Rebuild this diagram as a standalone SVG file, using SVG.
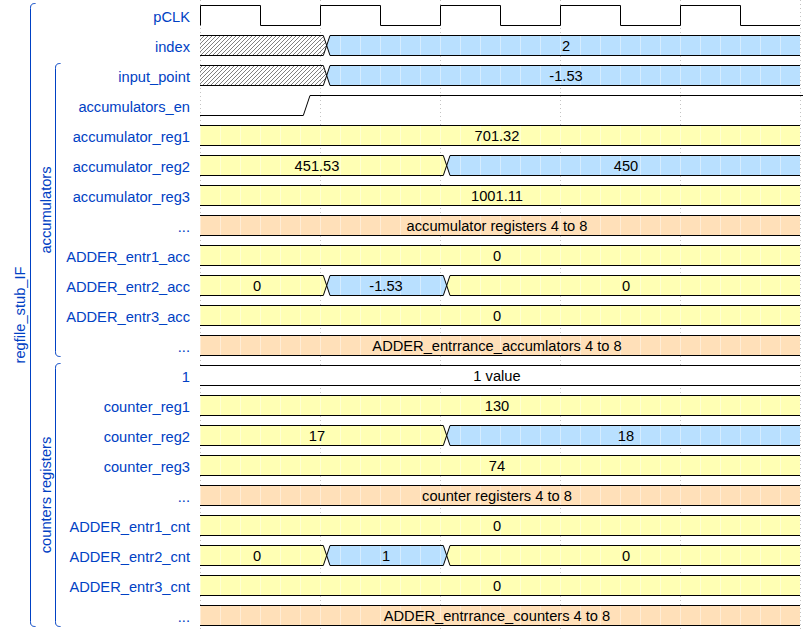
<svg xmlns="http://www.w3.org/2000/svg" width="804" height="630" viewBox="0 0 804 630">
<defs>
<pattern id="hatch" patternUnits="userSpaceOnUse" width="4" height="4">
<path d="M-1,1 L1,-1 M0,4 L4,0 M3,5 L5,3" stroke="#000" stroke-width="0.5"/>
</pattern>
<pattern id="seam" patternUnits="userSpaceOnUse" x="0" y="0" width="20" height="20">
<rect width="1" height="20" fill="#fff" fill-opacity="0.4"/>
</pattern>
<style>
.y{fill:#ffffb4}.o{fill:#ffe0b9}.b{fill:#b9e0ff}.w{fill:#fff}.h{fill:url(#hatch)}.s{fill:url(#seam)}
.ln{fill:none;stroke:#000;stroke-width:1}
.lbl{font-family:"Liberation Sans",Arial,sans-serif;font-size:14.67px;fill:#0041c4;text-anchor:end}
.gl{font-family:"Liberation Sans",Arial,sans-serif;font-size:14.67px;fill:#0041c4;text-anchor:middle}
.dt{font-family:"Liberation Sans",Arial,sans-serif;font-size:14.67px;fill:#000;text-anchor:middle}
.grid{fill:none;stroke:#888;stroke-width:0.5;stroke-dasharray:1,3}
.grp{fill:none;stroke:#0041c4;stroke-width:1}
</style>
</defs>
<rect width="804" height="630" fill="#fff"/>
<g id="grid">
<path class="grid" d="M200.5,0V630M320.5,0V630M440.5,0V630M560.5,0V630M680.5,0V630M800.5,0V630"/>
</g>
<g id="groups">
<path class="grp" d="M35.5,3.5c-3.5,0 -5,1 -5,5V621.5c0,4 1.5,5 5,5"/>
<text class="gl" transform="translate(25,315) rotate(-90)">regfile_stub_IF</text>
<path class="grp" d="M60.5,63.5c-3.5,0 -5,1 -5,5V351.5c0,4 1.5,5 5,5"/>
<text class="gl" transform="translate(50.5,210) rotate(-90)">accumulators</text>
<path class="grp" d="M60.5,363.5c-3.5,0 -5,1 -5,5V621.5c0,4 1.5,5 5,5"/>
<text class="gl" transform="translate(50.5,495) rotate(-90)">counters registers</text>
</g>
<g id="connectors"/>

<g id="sig-pCLK">
<text class="lbl" x="190" y="21.7">pCLK</text>
<path class="ln" d="M200.5,25.5V5.5H260.5V25.5H320.5V5.5H380.5V25.5H440.5V5.5H500.5V25.5H560.5V5.5H620.5V25.5H680.5V5.5H740.5V25.5H800"/>
</g>

<g id="sig-index">
<text class="lbl" x="190" y="51.7">index</text>
<polygon class="h" points="200,35.5 323.3,35.5 326.7,45.5 323.3,55.5 200,55.5"/>
<polygon class="b" points="326.7,45.5 330,35.5 800,35.5 800,55.5 330,55.5"/>
<polygon class="s" points="326.7,45.5 330,35.5 800,35.5 800,55.5 330,55.5"/>
<path class="ln" d="M200,35.5H323.3L326.7,45.5L323.3,55.5H200M800,35.5H330L326.7,45.5L330,55.5H800"/>
<text class="dt" x="566" y="50.7">2</text>
</g>

<g id="sig-input_point">
<text class="lbl" x="190" y="81.7">input_point</text>
<polygon class="h" points="200,65.5 323.3,65.5 326.7,75.5 323.3,85.5 200,85.5"/>
<polygon class="b" points="326.7,75.5 330,65.5 800,65.5 800,85.5 330,85.5"/>
<polygon class="s" points="326.7,75.5 330,65.5 800,65.5 800,85.5 330,85.5"/>
<path class="ln" d="M200,65.5H323.3L326.7,75.5L323.3,85.5H200M800,65.5H330L326.7,75.5L330,85.5H800"/>
<text class="dt" x="566" y="80.7">-1.53</text>
</g>

<g id="sig-accumulators_en">
<text class="lbl" x="190" y="111.7">accumulators_en</text>
<path class="ln" d="M200,115.5H303.3L310,95.5H803"/>
</g>

<g id="sig-accumulator_reg1">
<text class="lbl" x="190" y="141.7">accumulator_reg1</text>
<rect class="y" x="200" y="125.5" width="600" height="20"/>
<rect class="s" x="200" y="125.5" width="600" height="20"/>
<path class="ln" d="M200,125.5H800M200,145.5H800"/>
<text class="dt" x="497" y="140.7">701.32</text>
</g>

<g id="sig-accumulator_reg2">
<text class="lbl" x="190" y="171.7">accumulator_reg2</text>
<polygon class="y" points="200,155.5 443.3,155.5 446.7,165.5 443.3,175.5 200,175.5"/>
<polygon class="s" points="200,155.5 443.3,155.5 446.7,165.5 443.3,175.5 200,175.5"/>
<polygon class="b" points="446.7,165.5 450,155.5 800,155.5 800,175.5 450,175.5"/>
<polygon class="s" points="446.7,165.5 450,155.5 800,155.5 800,175.5 450,175.5"/>
<path class="ln" d="M200,155.5H443.3L446.7,165.5L443.3,175.5H200M800,155.5H450L446.7,165.5L450,175.5H800"/>
<text class="dt" x="317" y="170.7">451.53</text>
<text class="dt" x="626" y="170.7">450</text>
</g>

<g id="sig-accumulator_reg3">
<text class="lbl" x="190" y="201.7">accumulator_reg3</text>
<rect class="y" x="200" y="185.5" width="600" height="20"/>
<rect class="s" x="200" y="185.5" width="600" height="20"/>
<path class="ln" d="M200,185.5H800M200,205.5H800"/>
<text class="dt" x="497" y="200.7">1001.11</text>
</g>

<g id="sig-acc_more">
<text class="lbl" x="190" y="231.7">...</text>
<rect class="o" x="200" y="215.5" width="600" height="20"/>
<rect class="s" x="200" y="215.5" width="600" height="20"/>
<path class="ln" d="M200,215.5H800M200,235.5H800"/>
<text class="dt" x="497" y="230.7">accumulator registers 4 to 8</text>
</g>

<g id="sig-ADDER_entr1_acc">
<text class="lbl" x="190" y="261.7">ADDER_entr1_acc</text>
<rect class="y" x="200" y="245.5" width="600" height="20"/>
<rect class="s" x="200" y="245.5" width="600" height="20"/>
<path class="ln" d="M200,245.5H800M200,265.5H800"/>
<text class="dt" x="497" y="260.7">0</text>
</g>

<g id="sig-ADDER_entr2_acc">
<text class="lbl" x="190" y="291.7">ADDER_entr2_acc</text>
<polygon class="y" points="200,275.5 323.3,275.5 326.7,285.5 323.3,295.5 200,295.5"/>
<polygon class="s" points="200,275.5 323.3,275.5 326.7,285.5 323.3,295.5 200,295.5"/>
<polygon class="b" points="326.7,285.5 330,275.5 443.3,275.5 446.7,285.5 443.3,295.5 330,295.5"/>
<polygon class="s" points="326.7,285.5 330,275.5 443.3,275.5 446.7,285.5 443.3,295.5 330,295.5"/>
<polygon class="y" points="446.7,285.5 450,275.5 800,275.5 800,295.5 450,295.5"/>
<polygon class="s" points="446.7,285.5 450,275.5 800,275.5 800,295.5 450,295.5"/>
<path class="ln" d="M200,275.5H323.3L326.7,285.5L323.3,295.5H200M326.7,285.5L330,275.5H443.3L446.7,285.5L443.3,295.5H330Z M800,275.5H450L446.7,285.5L450,295.5H800"/>
<text class="dt" x="257" y="290.7">0</text>
<text class="dt" x="386" y="290.7">-1.53</text>
<text class="dt" x="626" y="290.7">0</text>
</g>

<g id="sig-ADDER_entr3_acc">
<text class="lbl" x="190" y="321.7">ADDER_entr3_acc</text>
<rect class="y" x="200" y="305.5" width="600" height="20"/>
<rect class="s" x="200" y="305.5" width="600" height="20"/>
<path class="ln" d="M200,305.5H800M200,325.5H800"/>
<text class="dt" x="497" y="320.7">0</text>
</g>

<g id="sig-adder_acc_more">
<text class="lbl" x="190" y="351.7">...</text>
<rect class="o" x="200" y="335.5" width="600" height="20"/>
<rect class="s" x="200" y="335.5" width="600" height="20"/>
<path class="ln" d="M200,335.5H800M200,355.5H800"/>
<text class="dt" x="497" y="350.7">ADDER_entrrance_accumlators 4 to 8</text>
</g>

<g id="sig-one">
<text class="lbl" x="190" y="381.7">1</text>
<rect class="w" x="200" y="365.5" width="600" height="20"/>
<path class="ln" d="M200,365.5H800M200,385.5H800"/>
<text class="dt" x="497" y="380.7">1 value</text>
</g>

<g id="sig-counter_reg1">
<text class="lbl" x="190" y="411.7">counter_reg1</text>
<rect class="y" x="200" y="395.5" width="600" height="20"/>
<rect class="s" x="200" y="395.5" width="600" height="20"/>
<path class="ln" d="M200,395.5H800M200,415.5H800"/>
<text class="dt" x="497" y="410.7">130</text>
</g>

<g id="sig-counter_reg2">
<text class="lbl" x="190" y="441.7">counter_reg2</text>
<polygon class="y" points="200,425.5 443.3,425.5 446.7,435.5 443.3,445.5 200,445.5"/>
<polygon class="s" points="200,425.5 443.3,425.5 446.7,435.5 443.3,445.5 200,445.5"/>
<polygon class="b" points="446.7,435.5 450,425.5 800,425.5 800,445.5 450,445.5"/>
<polygon class="s" points="446.7,435.5 450,425.5 800,425.5 800,445.5 450,445.5"/>
<path class="ln" d="M200,425.5H443.3L446.7,435.5L443.3,445.5H200M800,425.5H450L446.7,435.5L450,445.5H800"/>
<text class="dt" x="317" y="440.7">17</text>
<text class="dt" x="626" y="440.7">18</text>
</g>

<g id="sig-counter_reg3">
<text class="lbl" x="190" y="471.7">counter_reg3</text>
<rect class="y" x="200" y="455.5" width="600" height="20"/>
<rect class="s" x="200" y="455.5" width="600" height="20"/>
<path class="ln" d="M200,455.5H800M200,475.5H800"/>
<text class="dt" x="497" y="470.7">74</text>
</g>

<g id="sig-cnt_more">
<text class="lbl" x="190" y="501.7">...</text>
<rect class="o" x="200" y="485.5" width="600" height="20"/>
<rect class="s" x="200" y="485.5" width="600" height="20"/>
<path class="ln" d="M200,485.5H800M200,505.5H800"/>
<text class="dt" x="497" y="500.7">counter registers 4 to 8</text>
</g>

<g id="sig-ADDER_entr1_cnt">
<text class="lbl" x="190" y="531.7">ADDER_entr1_cnt</text>
<rect class="y" x="200" y="515.5" width="600" height="20"/>
<rect class="s" x="200" y="515.5" width="600" height="20"/>
<path class="ln" d="M200,515.5H800M200,535.5H800"/>
<text class="dt" x="497" y="530.7">0</text>
</g>

<g id="sig-ADDER_entr2_cnt">
<text class="lbl" x="190" y="561.7">ADDER_entr2_cnt</text>
<polygon class="y" points="200,545.5 323.3,545.5 326.7,555.5 323.3,565.5 200,565.5"/>
<polygon class="s" points="200,545.5 323.3,545.5 326.7,555.5 323.3,565.5 200,565.5"/>
<polygon class="b" points="326.7,555.5 330,545.5 443.3,545.5 446.7,555.5 443.3,565.5 330,565.5"/>
<polygon class="s" points="326.7,555.5 330,545.5 443.3,545.5 446.7,555.5 443.3,565.5 330,565.5"/>
<polygon class="y" points="446.7,555.5 450,545.5 800,545.5 800,565.5 450,565.5"/>
<polygon class="s" points="446.7,555.5 450,545.5 800,545.5 800,565.5 450,565.5"/>
<path class="ln" d="M200,545.5H323.3L326.7,555.5L323.3,565.5H200M326.7,555.5L330,545.5H443.3L446.7,555.5L443.3,565.5H330Z M800,545.5H450L446.7,555.5L450,565.5H800"/>
<text class="dt" x="257" y="560.7">0</text>
<text class="dt" x="386" y="560.7">1</text>
<text class="dt" x="626" y="560.7">0</text>
</g>

<g id="sig-ADDER_entr3_cnt">
<text class="lbl" x="190" y="591.7">ADDER_entr3_cnt</text>
<rect class="y" x="200" y="575.5" width="600" height="20"/>
<rect class="s" x="200" y="575.5" width="600" height="20"/>
<path class="ln" d="M200,575.5H800M200,595.5H800"/>
<text class="dt" x="497" y="590.7">0</text>
</g>

<g id="sig-adder_cnt_more">
<text class="lbl" x="190" y="621.7">...</text>
<rect class="o" x="200" y="605.5" width="600" height="20"/>
<rect class="s" x="200" y="605.5" width="600" height="20"/>
<path class="ln" d="M200,605.5H800M200,625.5H800"/>
<text class="dt" x="497" y="620.7">ADDER_entrrance_counters 4 to 8</text>
</g>
</svg>
